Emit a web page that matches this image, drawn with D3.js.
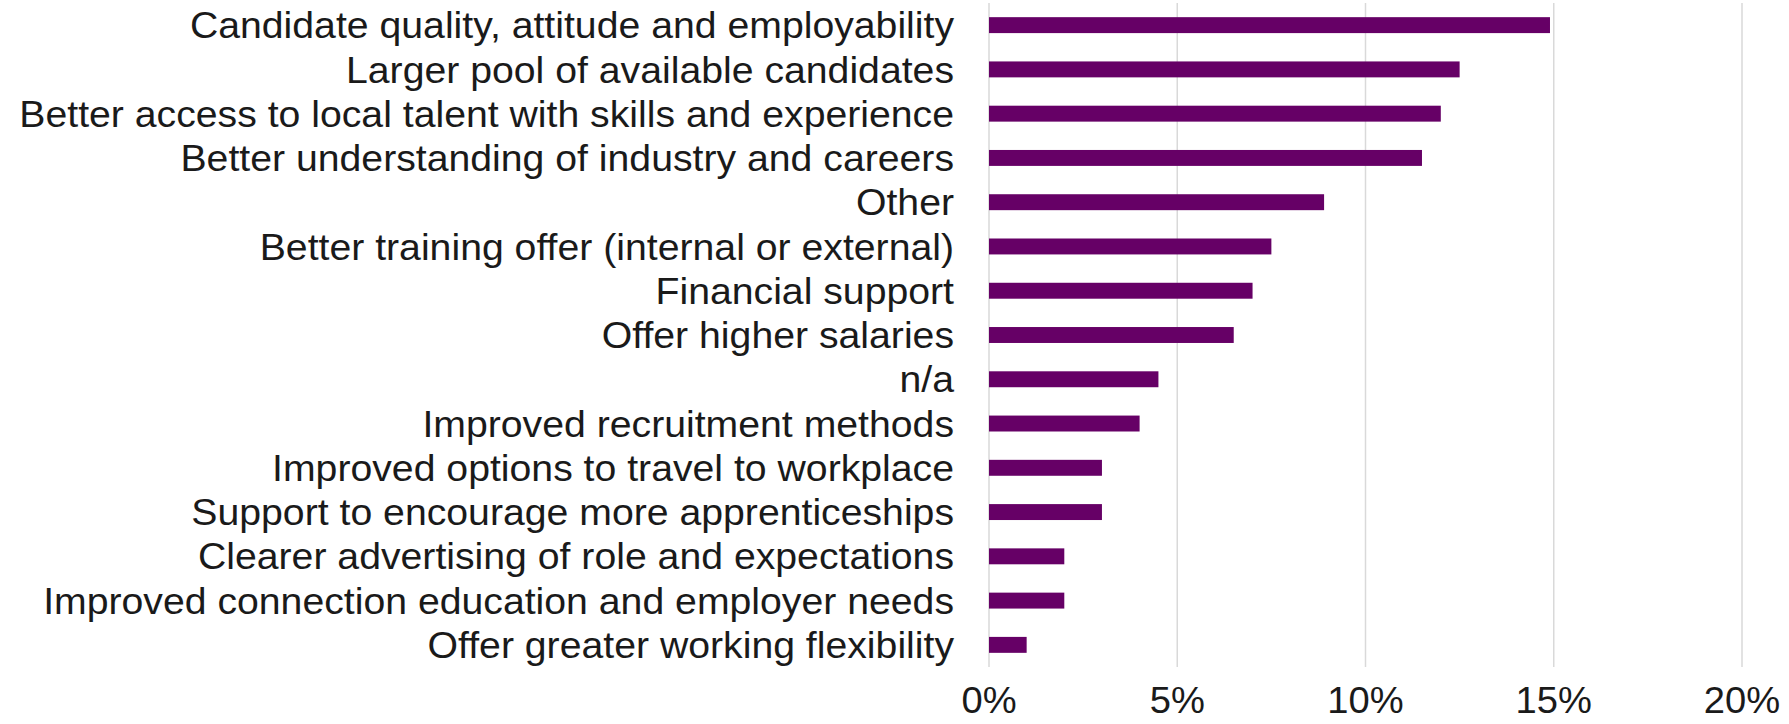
<!DOCTYPE html>
<html>
<head>
<meta charset="utf-8">
<script src="https://cdn.jsdelivr.net/npm/d3@7"></script>
<style>
  html, body { margin: 0; padding: 0; background: #ffffff; }
  svg { display: block; }
  text { font-family: "Liberation Sans", Arial, sans-serif; fill: #1a1a1a; }
</style>
</head>
<body>
<svg id="chart" width="1789" height="724"></svg>
<script>
const categories = [
  "Candidate quality, attitude and employability",
  "Larger pool of available candidates",
  "Better access to local talent with skills and experience",
  "Better understanding of industry and careers",
  "Other",
  "Better training offer (internal or external)",
  "Financial support",
  "Offer higher salaries",
  "n/a",
  "Improved recruitment methods",
  "Improved options to travel to workplace",
  "Support to encourage more apprenticeships",
  "Clearer advertising of role and expectations",
  "Improved connection education and employer needs",
  "Offer greater working flexibility"
];
const values = [14.9, 12.5, 12.0, 11.5, 8.9, 7.5, 7.0, 6.5, 4.5, 4.0, 3.0, 3.0, 2.0, 2.0, 1.0];
const tickValues = [0, 5, 10, 15, 20];

(function () {
  const svg = d3.select("#chart");
  const mLeft = 989, mRight = 1742, mTop = 3, mBottom = 667;
  const fontSize = 37;
  const longestLabelWidth = 935;

  const x = d3.scaleLinear().domain([0, 20]).range([mLeft, mRight]);
  const y = d3.scaleBand().domain(categories).range([mTop, mBottom]).paddingInner(0.64).paddingOuter(0.32);

  // gridlines
  svg.append("g").selectAll("line").data(tickValues).join("line")
    .attr("x1", d => x(d)).attr("x2", d => x(d))
    .attr("y1", mTop).attr("y2", mBottom)
    .attr("stroke", "#d9d9d9").attr("stroke-width", 1.5);

  // bars
  svg.append("g").selectAll("rect").data(values).join("rect")
    .attr("x", x(0))
    .attr("y", (d, i) => y(categories[i]))
    .attr("width", d => x(d) - x(0))
    .attr("height", y.bandwidth())
    .attr("fill", "#660066");

  // category labels
  const labels = svg.append("g").selectAll("text").data(categories).join("text")
    .attr("text-anchor", "end")
    .attr("dominant-baseline", "central")
    .style("font-size", fontSize + "px")
    .text(d => d);

  let maxW = 0;
  labels.each(function () { maxW = Math.max(maxW, this.getComputedTextLength()); });
  const sx = longestLabelWidth / maxW;

  labels.attr("transform", d => `translate(${mLeft - 35},${y(d) + y.bandwidth() / 2}) scale(${sx},1)`);

  // tick labels
  svg.append("g").selectAll("text").data(tickValues).join("text")
    .attr("text-anchor", "middle")
    .attr("dominant-baseline", "central")
    .style("font-size", (fontSize - 1) + "px")
    .attr("transform", d => `translate(${x(d)},700) scale(${sx},1)`)
    .text(d => d + "%");
})();
</script>
</body>
</html>
